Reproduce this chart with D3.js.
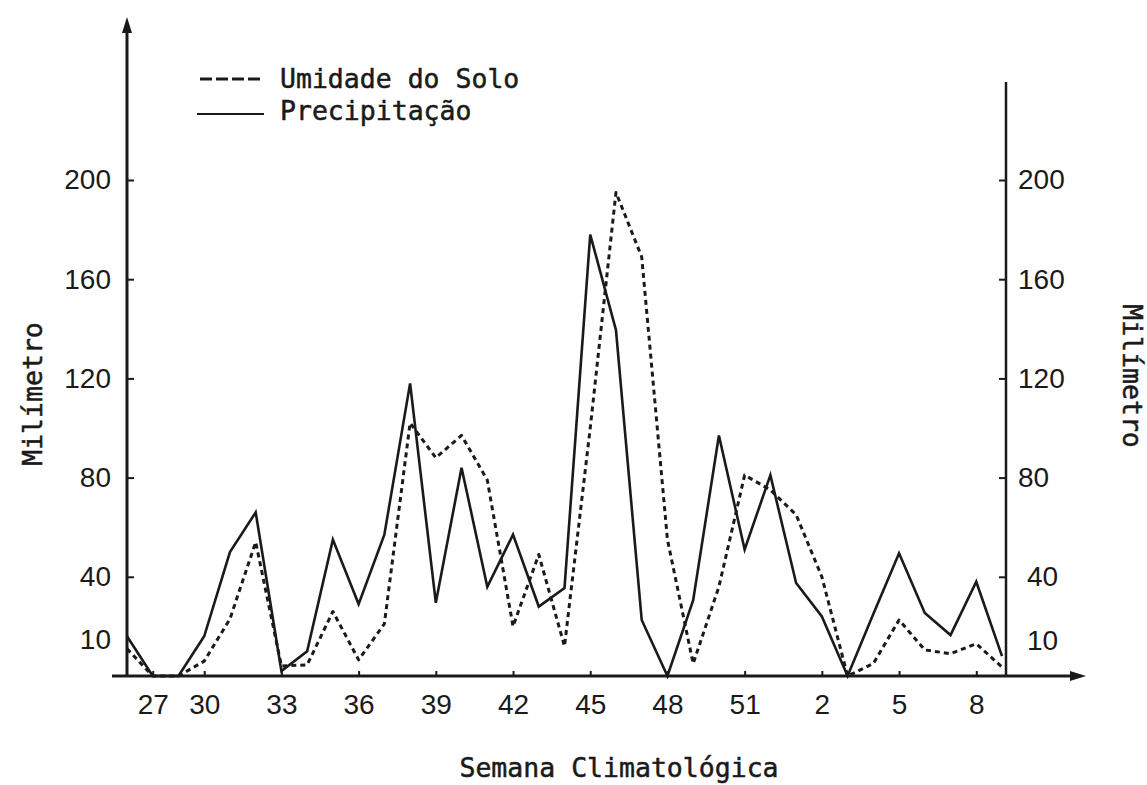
<!DOCTYPE html>
<html>
<head>
<meta charset="utf-8">
<script src="https://cdn.jsdelivr.net/npm/d3@7/dist/d3.min.js"></script>
<style>
  html, body { margin: 0; padding: 0; background: #ffffff; }
  svg { display: block; }
  .mono { font-family: "DejaVu Sans Mono", monospace; fill: #1a1a1a; stroke: #1a1a1a; stroke-width: 0.5px; }
  .tick text { font-family: "Liberation Sans", Arial, sans-serif; font-size: 28px; fill: #1a1a1a; }
</style>
</head>
<body>
<script>
// Climatological weeks (second half of one year into the start of the next)
const weeks = [27, 28, 29, 30, 31, 32, 33, 34, 35, 36, 37, 38, 39, 40, 41, 42, 43, 44, 45, 46,
               47, 48, 49, 50, 51, 52, 1, 2, 3, 4, 5, 6, 7, 8, 9];

// Weekly rainfall (mm)
const precipitacao = [16, 0, 0, 16, 50, 66, 2, 10, 55, 29, 57, 118, 29.5, 84, 36, 57, 28, 35.5, 178, 139.5,
                      22.6, 0, 30.6, 97, 51, 81, 37.5, 24, 0, 25, 49.5, 25.4, 16.5, 38, 8];

// Weekly soil moisture (mm)
const umidadeSolo = [11, 0, 0, 6, 23, 54, 4, 4.5, 26, 6.5, 21, 102, 88, 97, 79, 20, 49, 12, 100, 195,
                     169, 55, 5, 36, 81, 75, 65, 40, 0, 5, 22.6, 10.5, 9, 13, 3.6];

// Axis labels
const xTickWeeks = [27, 30, 33, 36, 39, 42, 45, 48, 51, 2, 5, 8];
const yTicks = [10, 40, 80, 120, 160, 200];

const W = 1147, H = 785;
const ink = "#1a1a1a";

const svg = d3.select("body").append("svg").attr("width", W).attr("height", H);

const x = d3.scaleLinear().domain([0, weeks.length - 1]).range([127, 1002]);
const y = d3.scaleLinear().domain([0, 200]).range([676, 180]);

// Tick positions: index of each labelled week in the series
const xTickIdx = xTickWeeks.map((w, i) => i === 0 ? 0 : weeks.indexOf(w));

// ---- bottom axis ----
const gx = svg.append("g").attr("transform", `translate(0,${y(0)})`)
  .call(d3.axisBottom(x).tickValues(xTickIdx).tickSize(-5).tickSizeOuter(0).tickPadding(18)
        .tickFormat((d, i) => xTickWeeks[i]));
gx.select(".domain").remove();
gx.selectAll(".tick line").attr("stroke", ink).attr("stroke-width", 2);
// first label sits one week to the right, clear of the vertical axis
gx.selectAll(".tick text").attr("dx", (d, i) => i === 0 ? (x(1) - x(0)) : 0);
gx.selectAll(".tick").filter((d, i) => i === 0).select("line").attr("transform", `translate(${x(1) - x(0)},0)`);

// ---- left axis ----
const gl = svg.append("g").attr("transform", `translate(${x(0)},0)`)
  .call(d3.axisLeft(y).tickValues(yTicks).tickSize(-7).tickSizeOuter(0).tickPadding(16));
gl.select(".domain").remove();
gl.selectAll(".tick line").attr("stroke", ink).attr("stroke-width", 2)
  .attr("opacity", d => d === 10 ? 0 : 1);
gl.selectAll(".tick text").attr("dy", d => d === 10 ? "-0.1em" : "0.32em");

// ---- right axis ----
const xr = 1006;
const gr = svg.append("g").attr("transform", `translate(${xr},0)`)
  .call(d3.axisRight(y).tickValues(yTicks).tickSize(-7).tickSizeOuter(0).tickPadding(12));
gr.select(".domain").remove();
gr.selectAll(".tick line").attr("stroke", ink).attr("stroke-width", 2)
  .attr("opacity", d => d === 10 ? 0 : 1);
gr.selectAll(".tick text").attr("dy", d => d === 10 ? "-0.05em" : "0.32em")
  .attr("dx", d => d <= 40 ? 9 : 0);

// axis lines
svg.append("line").attr("x1", x(0)).attr("x2", x(0)).attr("y1", y(0) + 1).attr("y2", 30)
  .attr("stroke", ink).attr("stroke-width", 3);
svg.append("path").attr("d", `M${x(0)},17 L${x(0) - 5},33 L${x(0) + 5},33 Z`).attr("fill", ink);

svg.append("line").attr("x1", 112).attr("x2", 1072).attr("y1", y(0)).attr("y2", y(0))
  .attr("stroke", ink).attr("stroke-width", 3);
svg.append("path").attr("d", `M1086,${y(0)} L1070,${y(0) - 5} L1070,${y(0) + 5} Z`).attr("fill", ink);

svg.append("line").attr("x1", xr).attr("x2", xr).attr("y1", y(0)).attr("y2", 82)
  .attr("stroke", ink).attr("stroke-width", 2.5);

// ---- series ----
const line = d3.line().x((d, i) => x(i)).y(d => y(d));

svg.append("path").datum(umidadeSolo).attr("d", line)
  .attr("fill", "none").attr("stroke", ink).attr("stroke-width", 3)
  .attr("stroke-dasharray", "5,4").attr("stroke-linejoin", "round");

svg.append("path").datum(precipitacao).attr("d", line)
  .attr("fill", "none").attr("stroke", ink).attr("stroke-width", 2.6)
  .attr("stroke-linejoin", "miter");

// ---- legend ----
const legend = svg.append("g");
legend.append("line").attr("x1", 200).attr("x2", 262).attr("y1", 79).attr("y2", 79)
  .attr("stroke", ink).attr("stroke-width", 3).attr("stroke-dasharray", "12,4");
legend.append("line").attr("x1", 197).attr("x2", 264).attr("y1", 114).attr("y2", 114)
  .attr("stroke", ink).attr("stroke-width", 2);
legend.append("text").attr("class", "mono").attr("x", 280).attr("y", 88)
  .attr("font-size", 26.5).text("Umidade do Solo");
legend.append("text").attr("class", "mono").attr("x", 280).attr("y", 120)
  .attr("font-size", 26.5).text("Precipitação");

// ---- axis titles ----
svg.append("text").attr("class", "mono").attr("x", 619).attr("y", 777)
  .attr("text-anchor", "middle").attr("font-size", 26.5).text("Semana Climatológica");

svg.append("text").attr("class", "mono").attr("font-size", 26.5)
  .attr("text-anchor", "middle")
  .attr("transform", "translate(42,394) rotate(-90)").text("Milímetro");

svg.append("text").attr("class", "mono").attr("font-size", 26.5)
  .attr("text-anchor", "middle")
  .attr("transform", "translate(1123,376) rotate(90)").text("Milímetro");
</script>
</body>
</html>
